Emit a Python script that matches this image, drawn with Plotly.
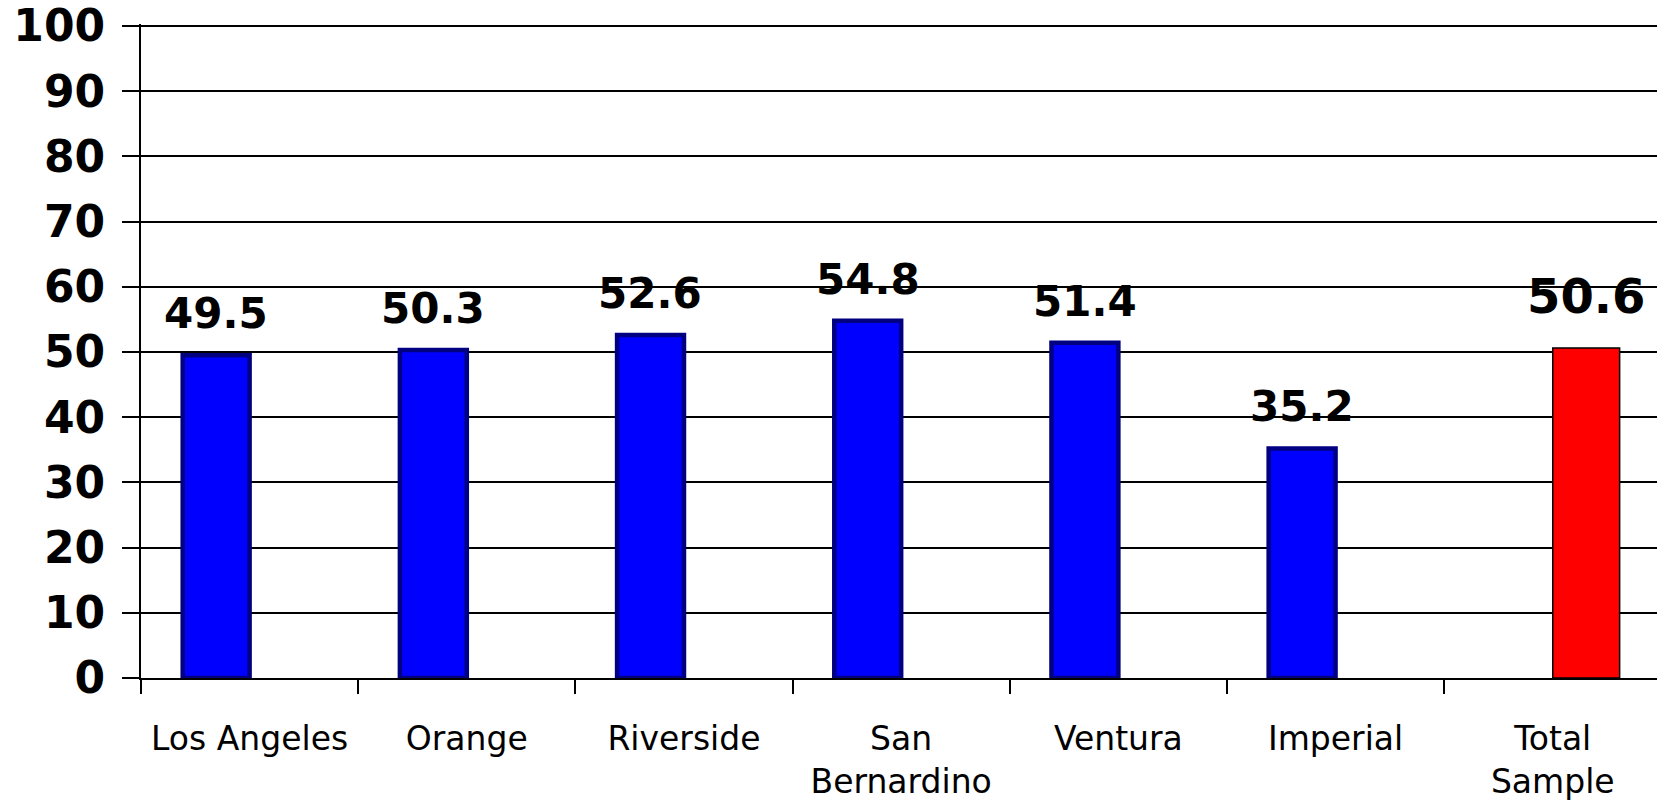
import plotly.graph_objects as go

counties = ["Los Angeles", "Orange", "Riverside", "San<br>Bernardino", "Ventura", "Imperial"]
county_values = [49.5, 50.3, 52.6, 54.8, 51.4, 35.2]
total_label = ["Total<br>Sample"]
total_values = [50.6]
y_ticks = [0, 10, 20, 30, 40, 50, 60, 70, 80, 90, 100]

FONT = "DejaVu Sans"
BAR_W = 0.308

fig = go.Figure()
fig.add_trace(go.Bar(
    x=counties, y=county_values, width=BAR_W, offset=-BAR_W,
    marker=dict(color="#0000FF", line=dict(color="#000080", width=4.5)),
    showlegend=False, hoverinfo="x+y",
))
fig.add_trace(go.Bar(
    x=total_label, y=total_values, width=BAR_W, offset=0,
    marker=dict(color="#FF0000", line=dict(color="#000000", width=1.5)),
    showlegend=False, hoverinfo="x+y",
))

for c, v in zip(counties, county_values):
    fig.add_annotation(x=c, y=v, text=f"<b>{v:.1f}</b>", showarrow=False,
                       xanchor="center", yanchor="bottom", xshift=-33.5, yshift=15,
                       font=dict(family=FONT, size=42, color="black"))
for c, v in zip(total_label, total_values):
    fig.add_annotation(x=c, y=v, text=f"<b>{v:.1f}</b>", showarrow=False,
                       xanchor="center", yanchor="bottom", xshift=33.5, yshift=22,
                       font=dict(family=FONT, size=48, color="black"))

fig.update_layout(
    width=1657, height=805,
    margin=dict(l=141, r=0, t=24, b=127),
    paper_bgcolor="white", plot_bgcolor="white",
    barmode="overlay",
    font=dict(family=FONT, color="black"),
)
fig.update_xaxes(
    categoryorder="array", categoryarray=counties + total_label,
    range=[-0.5, 6.48], automargin=False,
    showline=True, linecolor="black", linewidth=2,
    ticks="outside", tickson="boundaries", ticklen=14, tickwidth=2, tickcolor="black",
    tickfont=dict(family=FONT, size=33, color="black"),
    ticklabelstandoff=30, ticklabeloverflow="allow",
    showgrid=False, zeroline=False,
)
fig.update_yaxes(
    range=[0, 100.3], tickvals=y_ticks, automargin=False,
    ticktext=[f"<b>{t}</b>" for t in y_ticks],
    showline=True, linecolor="black", linewidth=2,
    ticks="outside", ticklen=17, tickwidth=1.5, tickcolor="black",
    tickfont=dict(family=FONT, size=44, color="black"),
    showgrid=True, gridcolor="black", gridwidth=1.5,
    zeroline=False, ticklabelstandoff=8, ticklabeloverflow="allow",
)

fig.write_html("out.html", config={"displayModeBar": False},
               post_script="document.body.style.margin='0';")
